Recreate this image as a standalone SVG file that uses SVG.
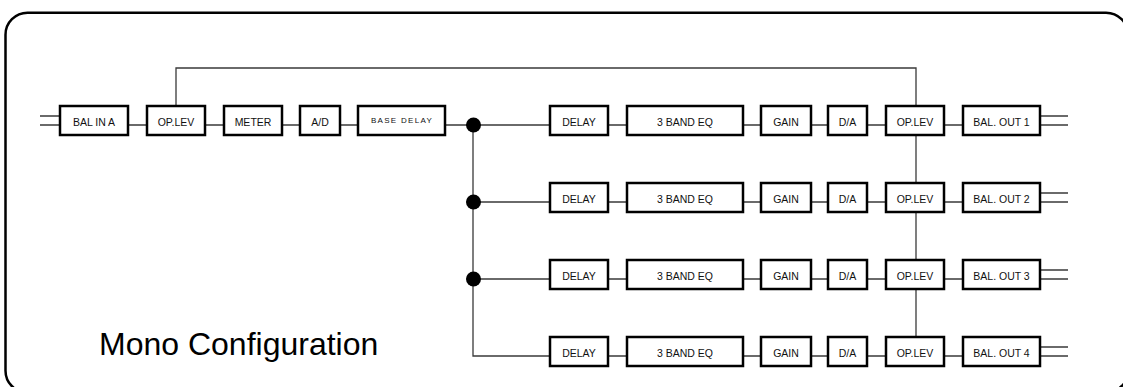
<svg xmlns="http://www.w3.org/2000/svg" width="1123" height="387" viewBox="0 0 1123 387">
<style>
.frame{fill:none;stroke:#000;stroke-width:2.5}
.box{fill:#fff;stroke:#000;stroke-width:2.5}
.ln{fill:none;stroke:#3a3a3a;stroke-width:1.3}
.dot{fill:#000}
.lbl{font-family:"Liberation Sans",Arial,sans-serif;font-size:10.5px;fill:#111;text-anchor:middle}
.small{font-family:"Liberation Sans",Arial,sans-serif;font-size:8px;letter-spacing:1.3px;fill:#111;text-anchor:middle}
.title{font-family:"Liberation Sans",Arial,sans-serif;font-size:32px;fill:#000}
</style>
<rect width="1123" height="387" fill="#fff"/>
<rect class="frame" x="5.5" y="12.7" width="1122.5" height="380" rx="22" ry="22"/>
<text class="title" x="99" y="355">Mono Configuration</text>
<g id="connectors">
  <path class="ln" d="M40 116H60M40 125H60"/>
  <path class="ln" d="M128 125H147M205 125H224M282 125H300M340 125H358M445 125H550"/>
  <path class="ln" d="M176 106V68H916V106"/>
  <path class="ln" d="M473 125V356H550M473 202H550M473 279H550"/>
  <path class="ln" d="M916 135V337"/>
  <path class="ln" d="M608 125H627M743 125H761M811 125H828M867 125H886M944 125H963M1040 116H1068M1040 125H1068"/>
  <path class="ln" d="M608 202H627M743 202H761M811 202H828M867 202H886M944 202H963M1040 193H1068M1040 202H1068"/>
  <path class="ln" d="M608 279H627M743 279H761M811 279H828M867 279H886M944 279H963M1040 270H1068M1040 279H1068"/>
  <path class="ln" d="M608 356H627M743 356H761M811 356H828M867 356H886M944 356H963M1040 347H1068M1040 356H1068"/>
  <circle class="dot" cx="473.5" cy="125" r="7.5"/>
  <circle class="dot" cx="473.5" cy="202" r="7.5"/>
  <circle class="dot" cx="473.5" cy="279" r="7.5"/>
</g>
<g id="bal-in-a"><rect class="box" x="60" y="106" width="68" height="29"/><text class="lbl" x="94" y="126">BAL IN A</text></g>
<g id="oplev-in"><rect class="box" x="147" y="106" width="58" height="29"/><text class="lbl" x="176" y="126">OP.LEV</text></g>
<g id="meter"><rect class="box" x="224" y="106" width="58" height="29"/><text class="lbl" x="253" y="126">METER</text></g>
<g id="ad"><rect class="box" x="300" y="106" width="40" height="29"/><text class="lbl" x="320" y="126">A/D</text></g>
<g id="base-delay"><rect class="box" x="358" y="106" width="87" height="29"/><text class="small" x="402" y="123">BASE DELAY</text></g>

<g id="delay-1"><rect class="box" x="550" y="106" width="58" height="29"/><text class="lbl" x="579" y="126">DELAY</text></g>
<g id="eq-1"><rect class="box" x="627" y="106" width="116" height="29"/><text class="lbl" x="685" y="126">3 BAND EQ</text></g>
<g id="gain-1"><rect class="box" x="761" y="106" width="50" height="29"/><text class="lbl" x="786" y="126">GAIN</text></g>
<g id="da-1"><rect class="box" x="828" y="106" width="39" height="29"/><text class="lbl" x="847.5" y="126">D/A</text></g>
<g id="oplev-1"><rect class="box" x="886" y="106" width="58" height="29"/><text class="lbl" x="915" y="126">OP.LEV</text></g>
<g id="out-1"><rect class="box" x="963" y="106" width="77" height="29"/><text class="lbl" x="1001.5" y="126">BAL. OUT 1</text></g>

<g id="delay-2"><rect class="box" x="550" y="183" width="58" height="29"/><text class="lbl" x="579" y="203">DELAY</text></g>
<g id="eq-2"><rect class="box" x="627" y="183" width="116" height="29"/><text class="lbl" x="685" y="203">3 BAND EQ</text></g>
<g id="gain-2"><rect class="box" x="761" y="183" width="50" height="29"/><text class="lbl" x="786" y="203">GAIN</text></g>
<g id="da-2"><rect class="box" x="828" y="183" width="39" height="29"/><text class="lbl" x="847.5" y="203">D/A</text></g>
<g id="oplev-2"><rect class="box" x="886" y="183" width="58" height="29"/><text class="lbl" x="915" y="203">OP.LEV</text></g>
<g id="out-2"><rect class="box" x="963" y="183" width="77" height="29"/><text class="lbl" x="1001.5" y="203">BAL. OUT 2</text></g>

<g id="delay-3"><rect class="box" x="550" y="260" width="58" height="29"/><text class="lbl" x="579" y="280">DELAY</text></g>
<g id="eq-3"><rect class="box" x="627" y="260" width="116" height="29"/><text class="lbl" x="685" y="280">3 BAND EQ</text></g>
<g id="gain-3"><rect class="box" x="761" y="260" width="50" height="29"/><text class="lbl" x="786" y="280">GAIN</text></g>
<g id="da-3"><rect class="box" x="828" y="260" width="39" height="29"/><text class="lbl" x="847.5" y="280">D/A</text></g>
<g id="oplev-3"><rect class="box" x="886" y="260" width="58" height="29"/><text class="lbl" x="915" y="280">OP.LEV</text></g>
<g id="out-3"><rect class="box" x="963" y="260" width="77" height="29"/><text class="lbl" x="1001.5" y="280">BAL. OUT 3</text></g>

<g id="delay-4"><rect class="box" x="550" y="337" width="58" height="29"/><text class="lbl" x="579" y="357">DELAY</text></g>
<g id="eq-4"><rect class="box" x="627" y="337" width="116" height="29"/><text class="lbl" x="685" y="357">3 BAND EQ</text></g>
<g id="gain-4"><rect class="box" x="761" y="337" width="50" height="29"/><text class="lbl" x="786" y="357">GAIN</text></g>
<g id="da-4"><rect class="box" x="828" y="337" width="39" height="29"/><text class="lbl" x="847.5" y="357">D/A</text></g>
<g id="oplev-4"><rect class="box" x="886" y="337" width="58" height="29"/><text class="lbl" x="915" y="357">OP.LEV</text></g>
<g id="out-4"><rect class="box" x="963" y="337" width="77" height="29"/><text class="lbl" x="1001.5" y="357">BAL. OUT 4</text></g>
</svg>
